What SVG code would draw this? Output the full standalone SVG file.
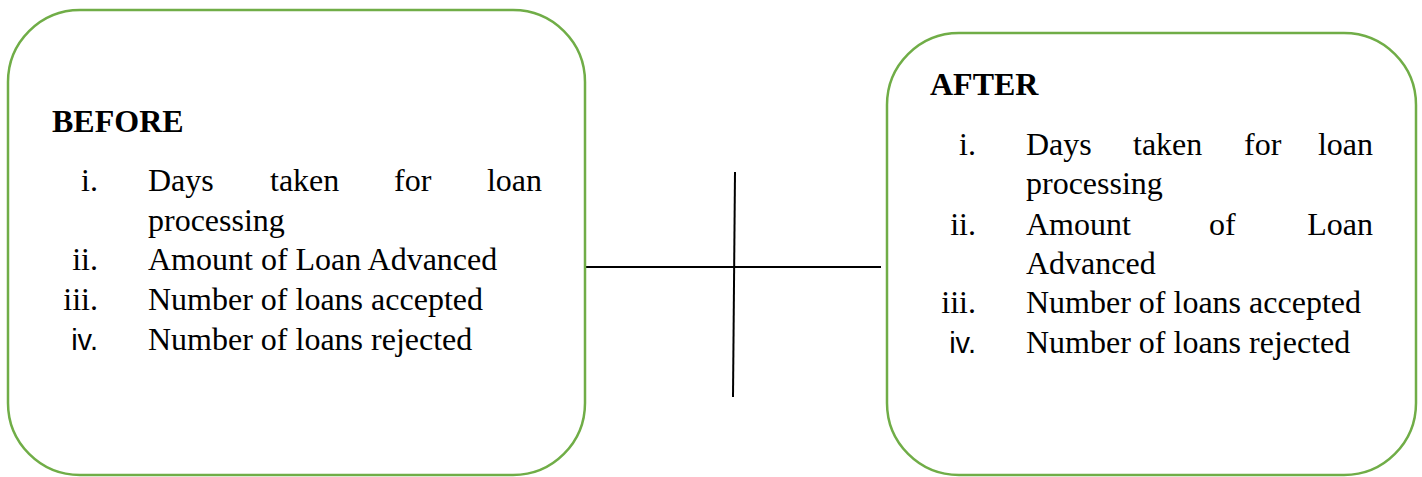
<svg xmlns="http://www.w3.org/2000/svg" width="1422" height="477" viewBox="0 0 1422 477">
  <style>
    .box { fill: #ffffff; stroke: #70AD47; stroke-width: 2.5; }
    .link { stroke: #000000; stroke-width: 2; fill: none; }
    .title { font-family: "Liberation Serif", "Times New Roman", serif; font-weight: bold; font-size: 32px; fill: #000; }
    .item { font-family: "Liberation Serif", "Times New Roman", serif; font-size: 32px; fill: #000; }
    .num { font-family: "Liberation Serif", "Times New Roman", serif; font-size: 32px; fill: #000; text-anchor: end; }
    .num-sans { font-family: "Liberation Sans", Arial, sans-serif; font-size: 29px; fill: #000; text-anchor: end; }
    .end { text-anchor: end; }
  </style>
  <rect width="1422" height="477" fill="#ffffff"/>

  <!-- cross-shaped connector between the two panels -->
  <g id="connectors">
    <line class="link" x1="585" y1="267" x2="881" y2="267"/>
    <line class="link" x1="735" y1="172" x2="733" y2="397"/>
  </g>

  <!-- left panel -->
  <g id="before">
    <rect class="box" x="8" y="10" width="577" height="465" rx="72" ry="72"/>
    <text class="title" x="52" y="132">BEFORE</text>
    <text class="num" x="98" y="191">i.</text>
    <text class="item" x="148" y="191">Days</text>
    <text class="item" x="270" y="191">taken</text>
    <text class="item" x="394" y="191">for</text>
    <text class="item end" x="542" y="191">loan</text>
    <text class="item" x="148" y="231">processing</text>
    <text class="num" x="98" y="270">ii.</text>
    <text class="item" x="148" y="270">Amount of Loan Advanced</text>
    <text class="num" x="98" y="310">iii.</text>
    <text class="item" x="148" y="310">Number of loans accepted</text>
    <text class="num-sans" x="98" y="350">iv.</text>
    <text class="item" x="148" y="350">Number of loans rejected</text>
  </g>

  <!-- right panel -->
  <g id="after">
    <rect class="box" x="887" y="33" width="529" height="442" rx="72" ry="72"/>
    <text class="title" x="930" y="95">AFTER</text>
    <text class="num" x="976" y="155">i.</text>
    <text class="item" x="1026" y="155">Days</text>
    <text class="item" x="1133" y="155">taken</text>
    <text class="item" x="1244" y="155">for</text>
    <text class="item end" x="1373" y="155">loan</text>
    <text class="item" x="1026" y="194">processing</text>
    <text class="num" x="976" y="235">ii.</text>
    <text class="item" x="1026" y="235">Amount</text>
    <text class="item" x="1209" y="235">of</text>
    <text class="item end" x="1373" y="235">Loan</text>
    <text class="item" x="1026" y="274">Advanced</text>
    <text class="num" x="976" y="313">iii.</text>
    <text class="item" x="1026" y="313">Number of loans accepted</text>
    <text class="num-sans" x="976" y="353">iv.</text>
    <text class="item" x="1026" y="353">Number of loans rejected</text>
  </g>
</svg>
